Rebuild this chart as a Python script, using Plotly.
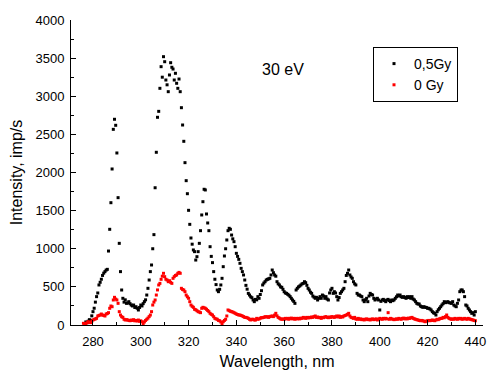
import numpy as np
import plotly.graph_objects as go

# Wavelength grids (nm), 0.5 nm sampling
wl_dose_start, wl_ctrl_start, wl_step = 277.0, 276.0, 0.5

# Intensity, imp/s  -- 0,5Gy (black)
int_05gy = [
    40, 30, 50, 70, 60, 120, 175, 220, 300, 372,
    420, 525, 560, 600, 650, 680, 700, 720, 730, 970,
    1255, 1604, 2046, 2566, 2698, 2619, 2256, 1670, 1071, 700,
    459, 350, 300, 330, 284, 290, 306, 280, 262, 250,
    262, 230, 240, 220, 197, 230, 262, 250, 280, 306,
    330, 393, 481, 590, 700, 787, 1000, 1185, 1800, 2265,
    2724, 2802, 3104, 3388, 3250, 3519, 3453, 3213, 3150, 3060,
    3279, 3440, 3380, 3357, 3213, 3301, 3170, 3104, 3226, 3060,
    2850, 2623, 2409, 2129, 1893, 1722, 1504, 1320, 1141, 1060,
    984, 962, 852, 896, 962, 1071, 1237, 1443, 1617, 1780,
    1771, 1456, 1338, 1237, 1027, 900, 818, 700, 600, 530,
    459, 437, 468, 525, 612, 765, 905, 1000, 1115, 1237,
    1268, 1255, 1180, 1130, 1093, 1027, 940, 900, 861, 809,
    743, 700, 656, 590, 520, 470, 415, 393, 370, 358,
    328, 306, 336, 330, 372, 350, 400, 450, 525, 550,
    568, 590, 599, 605, 612, 656, 721, 686, 656, 640,
    568, 540, 525, 500, 494, 468, 437, 420, 415, 402,
    390, 372, 350, 328, 310, 284, 459, 481, 500, 511,
    525, 540, 546, 568, 555, 520, 481, 459, 430, 415,
    380, 365, 350, 363, 328, 350, 372, 350, 393, 380,
    350, 372, 340, 328, 420, 459, 481, 415, 437, 420,
    372, 328, 360, 415, 437, 460, 481, 568, 650, 678,
    721, 656, 630, 612, 568, 540, 525, 415, 393, 393,
    380, 372, 328, 306, 330, 350, 306, 380, 415, 400,
    393, 350, 328, 340, 350, 328, 197, 310, 328, 336,
    320, 306, 328, 336, 320, 306, 328, 319, 330, 350,
    370, 393, 380, 393, 370, 363, 372, 360, 350, 372,
    360, 372, 350, 372, 340, 328, 306, 284, 275, 275,
    249, 240, 232, 240, 232, 230, 219, 219, 210, 197,
    175, 160, 153, 131, 175, 200, 219, 240, 262, 280,
    306, 293, 300, 306, 293, 290, 284, 306, 262, 250,
    240, 284, 328, 437, 459, 459, 437, 372, 262, 250,
    219, 197, 175, 153, 162, 131, 175,
]

# Intensity, imp/s  -- 0 Gy (red)
int_0gy = [
    22, 18, 13, 30, 44, 35, 31, 50, 66, 74,
    80, 87, 118, 125, 131, 144, 131, 125, 118, 144,
    150, 162, 219, 249, 240, 328, 363, 340, 328, 284,
    175, 131, 109, 100, 75, 66, 70, 66, 60, 56,
    65, 60, 70, 55, 60, 52, 65, 48, 55, 43,
    13, 40, 60, 75, 90, 110, 131, 175, 262, 300,
    328, 393, 460, 525, 546, 599, 640, 678, 634, 600,
    590, 568, 581, 560, 546, 612, 634, 650, 656, 678,
    690, 678, 481, 465, 459, 437, 393, 370, 350, 306,
    262, 245, 232, 206, 200, 188, 175, 170, 162, 219,
    232, 225, 219, 206, 190, 175, 153, 140, 131, 109,
    87, 80, 75, 60, 56, 40, 13, 43, 60, 75,
    118, 197, 188, 180, 175, 170, 162, 153, 144, 138,
    131, 131, 125, 118, 110, 100, 100, 95, 87, 75,
    66, 75, 75, 66, 66, 87, 75, 80, 90, 96,
    96, 100, 109, 105, 109, 100, 110, 115, 118, 110,
    130, 153, 120, 100, 90, 80, 75, 80, 75, 87,
    80, 87, 75, 87, 90, 80, 87, 75, 87, 80,
    87, 80, 90, 87, 100, 95, 87, 100, 92, 100,
    96, 105, 100, 110, 118, 100, 105, 96, 100, 87,
    100, 96, 105, 110, 100, 96, 105, 100, 110, 105,
    100, 109, 118, 105, 118, 100, 110, 105, 118, 125,
    131, 140, 153, 118, 100, 95, 87, 100, 80, 75,
    87, 75, 80, 70, 75, 66, 75, 80, 70, 75,
    66, 75, 80, 70, 75, 80, 66, 75, 87, 80,
    75, 87, 80, 87, 80, 162, 75, 87, 80, 75,
    70, 75, 80, 75, 87, 80, 75, 87, 90, 80,
    87, 80, 90, 87, 95, 100, 87, 80, 75, 70,
    66, 60, 56, 60, 56, 50, 43, 50, 56, 60,
    56, 60, 66, 60, 56, 66, 75, 70, 80, 87,
    87, 100, 95, 110, 131, 100, 87, 80, 75, 80,
    75, 87, 80, 75, 87, 80, 87, 75, 80, 87,
    80, 75, 87, 80, 75, 70, 66, 60, 56,
]

wl_05gy = [wl_dose_start + wl_step * i for i in range(len(int_05gy))]
wl_0gy = [wl_ctrl_start + wl_step * i for i in range(len(int_0gy))]

series_names = ["0,5Gy", "0 Gy"]
annotation_text = "30 eV"
x_title = "Wavelength, nm"
y_title = "Intensity, imp/s"

FONT = "Arial, 'Liberation Sans', sans-serif"

W, H = 487, 370
ML, MR, MT, MB = 71, 4, 20, 45
PW, PH = W - ML - MR, H - MT - MB

fig = go.Figure()
fig.add_trace(go.Scatter(
    x=wl_05gy, y=int_05gy, mode="markers", name=series_names[0],
    marker=dict(symbol="square", size=3, color="black", line=dict(width=0)),
    cliponaxis=False,
))
fig.add_trace(go.Scatter(
    x=wl_0gy, y=int_0gy, mode="markers", name=series_names[1],
    marker=dict(symbol="square", size=3, color="red", line=dict(width=0)),
    cliponaxis=False,
))

def px_to_paper(px, py):
    return (px - ML) / PW, 1 - (py - MT) / PH

lx, ly = px_to_paper(373, 47)
ax_, ay_ = px_to_paper(283, 69)

fig.update_layout(
    width=W, height=H, autosize=False,
    margin=dict(l=ML, r=MR, t=MT, b=MB),
    plot_bgcolor="white", paper_bgcolor="white",
    font=dict(family=FONT, size=13, color="black"),
    showlegend=True,
    legend=dict(
        x=lx, y=ly, xanchor="left", yanchor="top",
        bordercolor="black", borderwidth=1, bgcolor="white",
        font=dict(size=14, family=FONT),
        tracegroupgap=0, itemwidth=30,
    ),
    annotations=[dict(
        text=annotation_text, x=ax_, y=ay_, xref="paper", yref="paper",
        xanchor="center", yanchor="middle",
        showarrow=False, font=dict(size=16, family=FONT),
    )],
)

fig.update_xaxes(
    range=[270.8, 443.2], showgrid=False, zeroline=False, automargin=False,
    showline=True, linecolor="black", linewidth=1,
    ticks="inside", ticklen=5, tickwidth=1, tickcolor="black",
    tick0=280, dtick=20, ticklabelstandoff=4, ticklabeloverflow="allow",
    minor=dict(ticks="inside", ticklen=3, dtick=10, tick0=280, tickcolor="black"),
    title=dict(text=x_title, font=dict(size=16, family=FONT), standoff=14),
    tickfont=dict(size=13),
)
fig.update_yaxes(
    range=[0, 4000], showgrid=False, zeroline=False, automargin=False,
    showline=True, linecolor="black", linewidth=1,
    ticks="inside", ticklen=5, tickwidth=1, tickcolor="black",
    tick0=0, dtick=500, ticklabelstandoff=3,
    minor=dict(ticks="inside", ticklen=3, dtick=250, tickcolor="black"),
    title=dict(text=y_title, font=dict(size=16, family=FONT), standoff=8),
    tickfont=dict(size=13),
)

fig.write_html(
    "out.html",
    config={"displayModeBar": False},
    post_script="document.body.style.margin='0px';"
                "document.body.style.overflow='hidden';",
)
